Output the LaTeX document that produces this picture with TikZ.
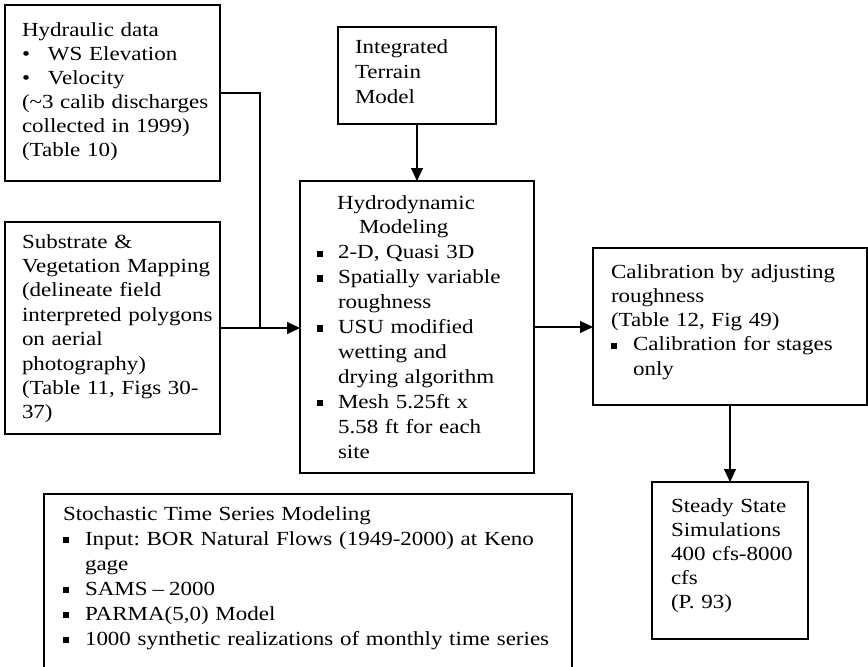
\documentclass[tikz,border=0pt]{standalone}
\usepackage{fontspec}
\setmainfont{Liberation Serif}[FakeStretch=1.15]
\usetikzlibrary{arrows.meta}
\newcommand{\sqb}[1]{\makebox[#1][l]{\raisebox{2pt}{\rule{6.3pt}{6.3pt}}}}
\newcommand{\rdb}[1]{\makebox[#1][l]{•}}
\newcommand{\ind}[1]{\hspace*{#1}}
\frenchspacing
\begin{document}
\begin{tikzpicture}[x=1pt,y=-1pt,
  box/.style={draw, line width=1.2pt, rectangle, inner sep=0pt, outer sep=0pt},
  txt/.style={anchor=base west, inner sep=0pt, outer sep=0pt, align=left, text width=520pt, font=\frenchspacing\fontsize{20}{#1}\selectfont},
  arr/.style={line width=1.2pt, -{Triangle[length=13pt,width=12pt]}},
  ln/.style={line width=1.2pt}]
\useasboundingbox (0,0) rectangle (868,667);
\fill[white] (0,0) rectangle (868,667);
\clip (0,0) rectangle (868,667);

% boxes
\node[box, minimum width=215pt, minimum height=176pt] (hyd) at (112.5,93) {};
\node[box, minimum width=215pt, minimum height=212pt] (sub) at (112.5,328) {};
\node[box, minimum width=158pt, minimum height=97pt] (itm) at (417,75.5) {};
\node[box, minimum width=234pt, minimum height=292pt] (hydro) at (417,327) {};
\node[box, minimum width=274pt, minimum height=157pt] (cal) at (730,326.5) {};
\node[box, minimum width=156pt, minimum height=157pt] (st) at (730,560.5) {};
\node[box, minimum width=528pt, minimum height=196pt] (sto) at (308,592) {};

% texts
\node[txt=24] (hydT) at (22,36) {Hydraulic data\\
\rdb{26pt}WS Elevation\\
\rdb{26pt}Velocity\\
(\textasciitilde3 calib discharges\\
collected in 1999)\\
(Table 10)};

\node[txt=24.4] (subT) at (22,248) {Substrate \&\\
Vegetation Mapping\\
(delineate field\\
interpreted polygons\\
on aerial\\
photography)\\
(Table 11, Figs 30-\\
37)};

\node[txt=25] (itmT) at (355,53) {Integrated\\
Terrain\\
Model};

\node[txt=24.9] (hydroT) at (317,209) {\ind{20pt}Hydrodynamic\\
\ind{42pt}Modeling\\
\sqb{21pt}2-D, Quasi 3D\\
\sqb{21pt}Spatially variable\\
\ind{21pt}roughness\\
\sqb{21pt}USU modified\\
\ind{21pt}wetting and\\
\ind{21pt}drying algorithm\\
\sqb{21pt}Mesh 5.25ft x\\
\ind{21pt}5.58 ft for each\\
\ind{21pt}site};

\node[txt=24.3] (calT) at (611,278) {Calibration by adjusting\\
roughness\\
(Table 12, Fig 49)\\
\sqb{22pt}Calibration for stages\\
\ind{22pt}only};

\node[txt=24] (stT) at (671,512) {Steady State\\
Simulations\\
400 cfs-8000\\
cfs\\
(P. 93)};

\node[txt=25] (stoT) at (63,520) {Stochastic Time Series Modeling\\
\sqb{22pt}Input: BOR Natural Flows (1949-2000) at Keno\\
\ind{22pt}gage\\
\sqb{22pt}SAMS\hspace{0.25em}–\hspace{0.25em}2000\\
\sqb{22pt}PARMA(5,0) Model\\
\sqb{22pt}1000 synthetic realizations of monthly time series};

% connectors
\coordinate (j) at (260,328);
\draw[ln] (hyd.east) -| (j);
\draw[arr] (sub.east) -- (sub.east -| hydro.west);
\draw[arr] (itm.south) -- (hydro.north);
\draw[arr] (hydro.east) -- (hydro.east -| cal.west);
\draw[arr] (cal.south) -- (st.north);
\end{tikzpicture}
\end{document}
